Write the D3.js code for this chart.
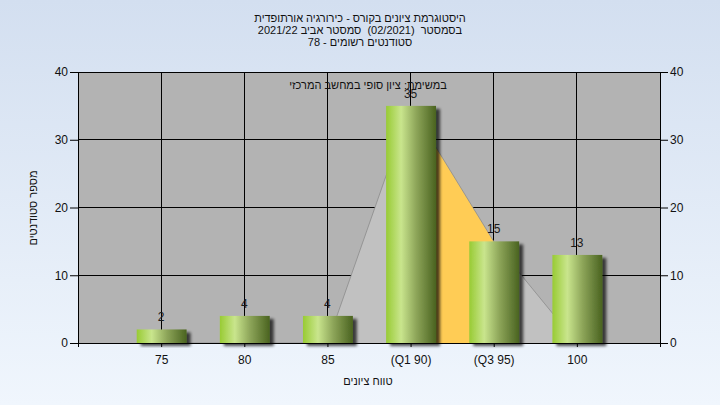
<!DOCTYPE html>
<html><head><meta charset="utf-8">
<script src="https://cdn.jsdelivr.net/npm/d3@7"></script>
<style>
html,body{margin:0;padding:0;}
svg{display:block;font-family:"Liberation Sans",Arial,sans-serif;}
.pre{white-space:pre;}
</style></head>
<body>
<svg id="chart" width="720" height="405"></svg>
<script>
const titleLines = ["היסטוגרמת ציונים בקורס - כירורגיה אורתופדית", "בסמסטר  (02/2021)  סמסטר אביב 2021/22", "סטודנטים רשומים - 78"];
const subtitle = "במשימת: ציון סופי במחשב המרכזי";
const categories = ["75", "80", "85", "(Q1 90)", "(Q3 95)", "100"];
const counts = [2, 4, 4, 35, 15, 13];
const quartileCurve = [0, 0, 0, 35, 15, 0];
const yTicks = [0, 10, 20, 30, 40];
const xTitle = "טווח ציונים";
const yTitle = "מספר סטודנטים";

const W = 720, H = 405;
const m = {left: 78, right: 660, top: 72, bottom: 343};
const svg = d3.select("#chart");
const defs = svg.append("defs");

const bg = defs.append("linearGradient").attr("id","bg").attr("x1",0).attr("y1",0).attr("x2",0).attr("y2",1);
bg.append("stop").attr("offset","0%").attr("stop-color","#d3dff0");
bg.append("stop").attr("offset","100%").attr("stop-color","#f0f6fd");

const bar = defs.append("linearGradient").attr("id","bar").attr("x1",0).attr("y1",0).attr("x2",1).attr("y2",0);
bar.append("stop").attr("offset","0%").attr("stop-color","#98cb34");
bar.append("stop").attr("offset","30%").attr("stop-color","#c9e58d");
bar.append("stop").attr("offset","60%").attr("stop-color","#8ea65a");
bar.append("stop").attr("offset","100%").attr("stop-color","#4a6320");

const sh = defs.append("filter").attr("id","shadow").attr("x","-20%").attr("y","-20%").attr("width","150%").attr("height","150%");
sh.append("feGaussianBlur").attr("in","SourceAlpha").attr("stdDeviation",1.6).attr("result","b");
sh.append("feOffset").attr("in","b").attr("dx",4).attr("dy",3).attr("result","o");
sh.append("feComponentTransfer").attr("in","o").attr("result","o2")
  .append("feFuncA").attr("type","linear").attr("slope",0.7);
const mg = sh.append("feMerge");
mg.append("feMergeNode").attr("in","o2");
mg.append("feMergeNode").attr("in","SourceGraphic");

svg.append("rect").attr("width",W).attr("height",H).attr("fill","url(#bg)");

const x = d3.scalePoint().domain(categories).range([m.left, m.right]).padding(1);
const y = d3.scaleLinear().domain([0, 40]).range([m.bottom, m.top]);
const bw = x.step() * 0.6;

// plot background
svg.append("rect").attr("x",m.left).attr("y",m.top).attr("width",m.right-m.left).attr("height",m.bottom-m.top).attr("fill","#b3b3b3");

// gridlines
svg.append("g").selectAll("line.h").data(yTicks.slice(1)).join("line")
  .attr("x1",m.left).attr("x2",m.right).attr("y1",d=>y(d)).attr("y2",d=>y(d))
  .attr("stroke","#000").attr("stroke-width",1).attr("shape-rendering","crispEdges");
svg.append("g").selectAll("line.v").data(categories).join("line")
  .attr("x1",d=>x(d)).attr("x2",d=>x(d)).attr("y1",m.top).attr("y2",m.bottom)
  .attr("stroke","#000").attr("stroke-width",1).attr("shape-rendering","crispEdges");

// curve area
const pts = categories.map((c,i)=>({c, v: quartileCurve[i]}));
const area = d3.area().x(d=>x(d.c)).y0(y(0)).y1(d=>y(d.v));
const line = d3.line().x(d=>x(d.c)).y(d=>y(d.v));
svg.append("path").datum(pts).attr("d",area).attr("fill","#c1c1c1");
svg.append("path").datum(pts.slice(3,5)).attr("d",area).attr("fill","#ffcc55");
svg.append("path").datum(pts).attr("d",line).attr("fill","none").attr("stroke","#8c8c8c").attr("stroke-width",0.8);

// bars
svg.append("g").selectAll("rect").data(counts).join("rect")
  .attr("x",(d,i)=>x(categories[i]) - bw/2 + 0.5)
  .attr("y",d=>y(d))
  .attr("width",bw)
  .attr("height",d=>y(0)-y(d))
  .attr("fill","url(#bar)")
  .attr("filter","url(#shadow)");

// value labels
svg.append("g").selectAll("text").data(counts).join("text")
  .attr("x",(d,i)=>x(categories[i]))
  .attr("y",d=>y(d)-8)
  .attr("text-anchor","middle")
  .attr("font-size",12).attr("fill","#1a1a1a")
  .text(d=>d);

// axes
const axL = svg.append("g").attr("transform",`translate(${m.left},0)`)
  .call(d3.axisLeft(y).tickValues(yTicks).tickSize(8).tickPadding(2).tickSizeOuter(0));
const axR = svg.append("g").attr("transform",`translate(${m.right},0)`)
  .call(d3.axisRight(y).tickValues(yTicks).tickSize(8).tickPadding(2).tickSizeOuter(0));
const axB = svg.append("g").attr("transform",`translate(0,${m.bottom})`)
  .call(d3.axisBottom(x).tickSize(4).tickPadding(8).tickSizeOuter(0));
[axL,axR,axB].forEach(a=>{
  a.selectAll("text").attr("font-size",12).attr("fill","#111").attr("font-family","Liberation Sans, Arial, sans-serif");
  a.selectAll("line").attr("stroke","#000");
  a.select(".domain").attr("stroke","#000");
});
axB.select(".domain").attr("d",`M${m.left-1},0.5H${m.right+1}`);
axL.select(".domain").attr("d",`M0.5,${m.top}V${m.bottom+4}`);
axR.select(".domain").attr("d",`M0.5,${m.top}V${m.bottom+4}`);
axB.selectAll("text").attr("direction","ltr");

// titles
const tg = svg.append("g").attr("font-size",11).attr("fill","#111");
titleLines.forEach((t,i)=>{
  tg.append("text").attr("class","pre").attr("x",360).attr("y",22+i*12).attr("text-anchor","middle")
    .attr("direction","rtl").attr("unicode-bidi","embed").text(t);
});
svg.append("text").attr("x",368).attr("y",89).attr("text-anchor","middle")
  .attr("direction","rtl").attr("unicode-bidi","embed")
  .attr("font-size",11).attr("fill","#111").text(subtitle);
svg.append("text").attr("x",368).attr("y",385).attr("text-anchor","middle")
  .attr("direction","rtl").attr("unicode-bidi","embed")
  .attr("font-size",11).attr("fill","#111").text(xTitle);
svg.append("text").attr("transform","translate(37,208) rotate(-90)").attr("text-anchor","middle")
  .attr("direction","rtl").attr("unicode-bidi","embed")
  .attr("font-size",11).attr("fill","#111").text(yTitle);
</script>
</body></html>
